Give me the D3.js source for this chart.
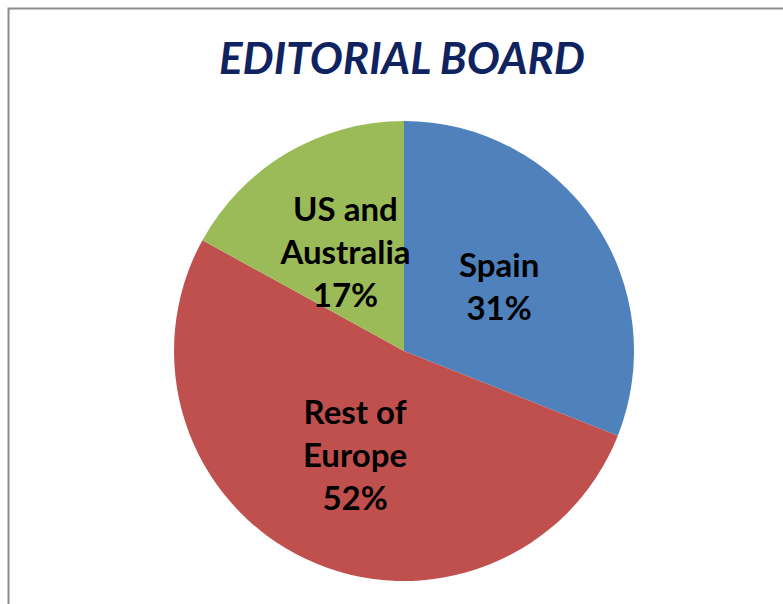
<!DOCTYPE html>
<html>
<head>
<meta charset="utf-8">
<script src="https://cdn.jsdelivr.net/npm/d3@7"></script>
<style>
  html, body { margin: 0; padding: 0; background: #fff; }
  svg { display: block; }
</style>
</head>
<body>
<svg id="chart" width="783" height="604"></svg>
<script>
// Editorial board composition by region
const regions = ["Spain", "Rest of Europe", "US and Australia"];
const shares = [31, 52, 17];
const labelLines = [["Spain"], ["Rest of", "Europe"], ["US and", "Australia"]];
const sliceColors = ["#4F81BD", "#C0504D", "#9BBB59"];

const W = 783, H = 604;
const svg = d3.select("#chart");

// Chart frame (extends past the right and bottom edges)
svg.append("rect")
  .attr("x", 8.5).attr("y", 8.5)
  .attr("width", W + 20).attr("height", H + 20)
  .attr("fill", "#fff")
  .attr("stroke", "#8c8c8c")
  .attr("stroke-width", 2);

// Title
svg.append("text")
  .attr("x", 402).attr("y", 74)
  .attr("text-anchor", "middle")
  .attr("font-family", "Lato, 'Open Sans', sans-serif")
  .attr("font-weight", "bold")
  .attr("font-style", "italic")
  .attr("font-size", 43)
  .attr("fill", "#0F2361")
  .attr("textLength", 366)
  .attr("lengthAdjust", "spacingAndGlyphs")
  .text("EDITORIAL BOARD");

// Pie
const cx = 404, cy = 351, R = 230;
const data = regions.map((name, i) => ({ name, value: shares[i], lines: labelLines[i], color: sliceColors[i] }));

const pie = d3.pie().value(d => d.value).sort(null);
const arc = d3.arc().innerRadius(0).outerRadius(R);

const g = svg.append("g").attr("transform", `translate(${cx},${cy})`);
const arcs = pie(data);

g.selectAll("path.slice")
  .data(arcs)
  .join("path")
  .attr("class", "slice")
  .attr("d", arc)
  .attr("fill", d => d.data.color);

// Data labels: category name + percentage, centred on each slice
const lineH = 43;
g.selectAll("text.lbl")
  .data(arcs)
  .join("text")
  .attr("class", "lbl")
  .attr("text-anchor", "middle")
  .attr("font-family", "Lato, 'Open Sans', sans-serif")
  .attr("font-weight", "bold")
  .attr("font-size", 33)
  .attr("fill", "#000")
  .each(function(d) {
    const [x, y] = arc.centroid(d);
    const lines = d.data.lines.concat([d.data.value + "%"]);
    const n = lines.length;
    const t = d3.select(this);
    lines.forEach((s, k) => {
      t.append("tspan")
        .attr("x", x)
        .attr("y", y + (k - (n - 1) / 2) * lineH + 12)
        .text(s);
    });
  });
</script>
</body>
</html>
